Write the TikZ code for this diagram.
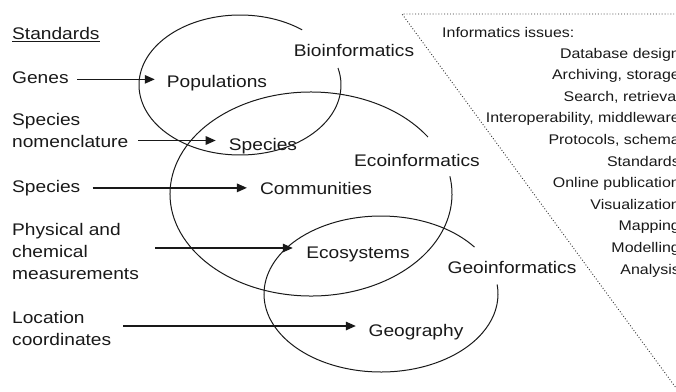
\documentclass[tikz,border=0pt]{standalone}
\usepackage{fontspec}
\setmainfont{Liberation Sans}[FakeStretch=1.14]
\usetikzlibrary{arrows.meta}
\newcommand{\lf}{\fontsize{16.8}{22}\selectfont}
\newcommand{\rf}{\fontsize{14}{21.6}\selectfont}
\tikzset{
  ink/.style={draw=black!90},
  lab/.style={inner sep=0pt, anchor=base west, font=\lf, text=black!90},
  clab/.style={inner sep=0pt, anchor=base, font=\lf, text=black!90},
  rlab/.style={inner sep=0pt, anchor=base east, font=\rf, text=black!90},
  ell/.style={draw=black!90, line width=1pt},
  arr/.style={draw=black!90, line width=1.35pt, -{Triangle[length=10pt,width=8.5pt]}},
  dots/.style={draw=black!80, line width=0.9pt, dotted}
}
\begin{document}
\begin{tikzpicture}[x=1pt,y=1pt]
\useasboundingbox (0,0) rectangle (676,-391);
\clip (0,0) rectangle (676,-391);

% left labels
\node[lab] (std) at (12,-39) {Standards};
\draw[ink, line width=0.8pt] ([yshift=-2.7pt]std.base west) -- ([yshift=-2.7pt]std.base east);
\node[lab] (genes) at (12,-83) {Genes};
\node[lab] (nom) at (12,-125) {\vtop{\hbox{Species}\hbox{nomenclature}}};
\node[lab] (spl) at (12,-192) {Species};
\node[lab] (phys) at (12,-235) {\vtop{\hbox{Physical and}\hbox{chemical}\hbox{measurements}}};
\node[lab] (loc) at (12,-323) {\vtop{\hbox{Location}\hbox{coordinates}}};

% centre labels
\node[clab] (pop) at (217,-87) {Populations};
\node[clab] (spc) at (263,-150) {Species};
\node[clab] (com) at (316,-194) {Communities};
\node[clab] (eco) at (358,-258) {Ecosystems};
\node[clab] (geo) at (416,-336) {Geography};
\node[clab] (bio) at (354,-56) {Bioinformatics};
\node[clab] (ecoi) at (417,-166) {Ecoinformatics};
\node[clab] (geoi) at (512,-273) {Geoinformatics};

% ellipses (open where the labels sit)
\coordinate (e1) at (240,-85);
\coordinate (e2) at (311,-194);
\coordinate (e3) at (381,-294);
\draw[ell] ([shift={(52:101 and 70)}]e1) arc[start angle=52, end angle=374, x radius=101, y radius=70];
\draw[ell] ([shift={(34:141 and 102)}]e2) arc[start angle=34, end angle=370, x radius=141, y radius=102];
\draw[ell] ([shift={(37:117 and 78)}]e3) arc[start angle=37, end angle=367, x radius=117, y radius=78];

% arrows
\coordinate (a1) at ([yshift=1pt]genes.mid east);
\coordinate (a2) at ([yshift=-15.5pt]nom.base east);
\coordinate (a3) at ([yshift=1.5pt]spl.mid east);
\coordinate (a4) at ([yshift=-13pt]phys.base east);
\coordinate (a5) at ([yshift=-3pt]loc.base east);
\draw[arr, shorten <=8.6pt, shorten >=12pt] (a1) -- (a1 -| pop.west);
\draw[arr, shorten <=10pt, shorten >=13pt] (a2) -- (a2 -| spc.west);
\draw[arr, shorten <=12pt, shorten >=13pt] (a3) -- (a3 -| com.west);
\draw[arr, shorten <=16.4pt, shorten >=13.4pt] (a4) -- (a4 -| eco.west);
\draw[arr, shorten <=12pt, shorten >=12.6pt] (a5) -- (a5 -| geo.west);

% informatics issues panel
\coordinate (p0) at (402,-14);
\coordinate (p1) at (680,-14);
\coordinate (p2) at (679,-392);
\draw[dots] (p1) -- (p0) -- (p2);
\node[inner sep=0pt, anchor=base west, font=\rf, text=black!90] (iss) at (442,-37) {Informatics issues:};
\foreach \t [count=\i] in {Database design, {Archiving, storage}, {Search, retrieval},
  {Interoperability, middleware}, {Protocols, schema}, Standards, Online publication,
  Visualization, Mapping, Modelling, Analysis}
  \node[rlab] (r\i) at (680,{-58-21.6*(\i-1)}) {\t};
\end{tikzpicture}
\end{document}
